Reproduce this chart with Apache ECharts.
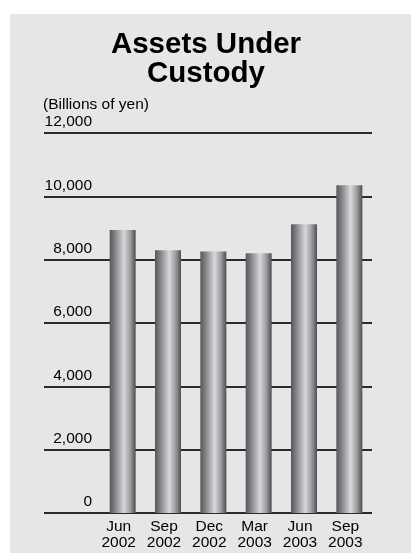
<!DOCTYPE html>
<html>
<head>
<meta charset="utf-8">
<script src="https://cdn.jsdelivr.net/npm/echarts@6/dist/echarts.min.js"></script>
<style>
html,body{margin:0;padding:0;background:#fff;}
#chart{width:412px;height:554px;}
</style>
</head>
<body>
<div id="chart"></div>
<script>
const categories = ['Jun\n2002', 'Sep\n2002', 'Dec\n2002', 'Mar\n2003', 'Jun\n2003', 'Sep\n2003'];
const assetsValues = [8940, 8300, 8260, 8200, 9120, 10350];
const yTicks = { min: 0, max: 12000, interval: 2000 };
const titleText = 'Assets Under\nCustody';
const unitText = '(Billions of yen)';

const FONT = '"Liberation Sans", Arial, Helvetica, sans-serif';
const chart = echarts.init(document.getElementById('chart'), null, { renderer: 'canvas' });

const barGradient = new echarts.graphic.LinearGradient(0, 0, 1, 0, [
  { offset: 0, color: '#56565a' },
  { offset: 0.25, color: '#8e8e92' },
  { offset: 0.55, color: '#d8d8da' },
  { offset: 0.8, color: '#9a9a9e' },
  { offset: 1, color: '#4e4e52' }
]);

chart.setOption({
  animation: false,
  backgroundColor: '#ffffff',
  graphic: [
    { type: 'rect', z: -10, shape: { x: 10, y: 14, width: 401, height: 539 }, style: { fill: '#e6e6e6' } },
    { type: 'text', x: 43, y: 105, style: { text: unitText, font: '15.5px ' + FONT, fill: '#000', textVerticalAlign: 'middle', textAlign: 'left' } }
  ],
  title: {
    text: titleText,
    left: 'center',
    top: 25,
    textStyle: { fontFamily: FONT, fontSize: 29.5, fontWeight: 'bold', color: '#000', lineHeight: 29 }
  },
  grid: [
    { left: 44, right: 40, top: 133, bottom: 41 },
    { left: 100, right: 40, top: 133, bottom: 41 }
  ],
  xAxis: [
    { type: 'value', gridIndex: 0, show: false, min: 0, max: 1 },
    {
      type: 'category', gridIndex: 1, data: categories,
      axisLine: { show: false }, axisTick: { show: false },
      axisLabel: { fontFamily: FONT, fontSize: 15.5, lineHeight: 16, color: '#000', margin: 6, padding: [0, 8, 0, 0], interval: 0 }
    }
  ],
  yAxis: [
    {
      type: 'value', gridIndex: 0, min: yTicks.min, max: yTicks.max, interval: yTicks.interval,
      axisLine: { show: false }, axisTick: { show: false },
      splitLine: { show: true, lineStyle: { color: '#2a2a2a', width: 2 } },
      axisLabel: {
        inside: true, margin: 48, align: 'right', verticalAlign: 'bottom', padding: [0, 0, 3, 0],
        fontFamily: FONT, fontSize: 15.5, color: '#000',
        formatter: v => v.toLocaleString('en-US')
      }
    },
    { type: 'value', gridIndex: 1, min: yTicks.min, max: yTicks.max, interval: yTicks.interval, show: false, splitLine: { show: false } }
  ],
  series: [
    {
      type: 'bar', xAxisIndex: 1, yAxisIndex: 1, data: assetsValues,
      barWidth: 26, itemStyle: { color: barGradient }, z: 5
    }
  ]
});
</script>
</body>
</html>
